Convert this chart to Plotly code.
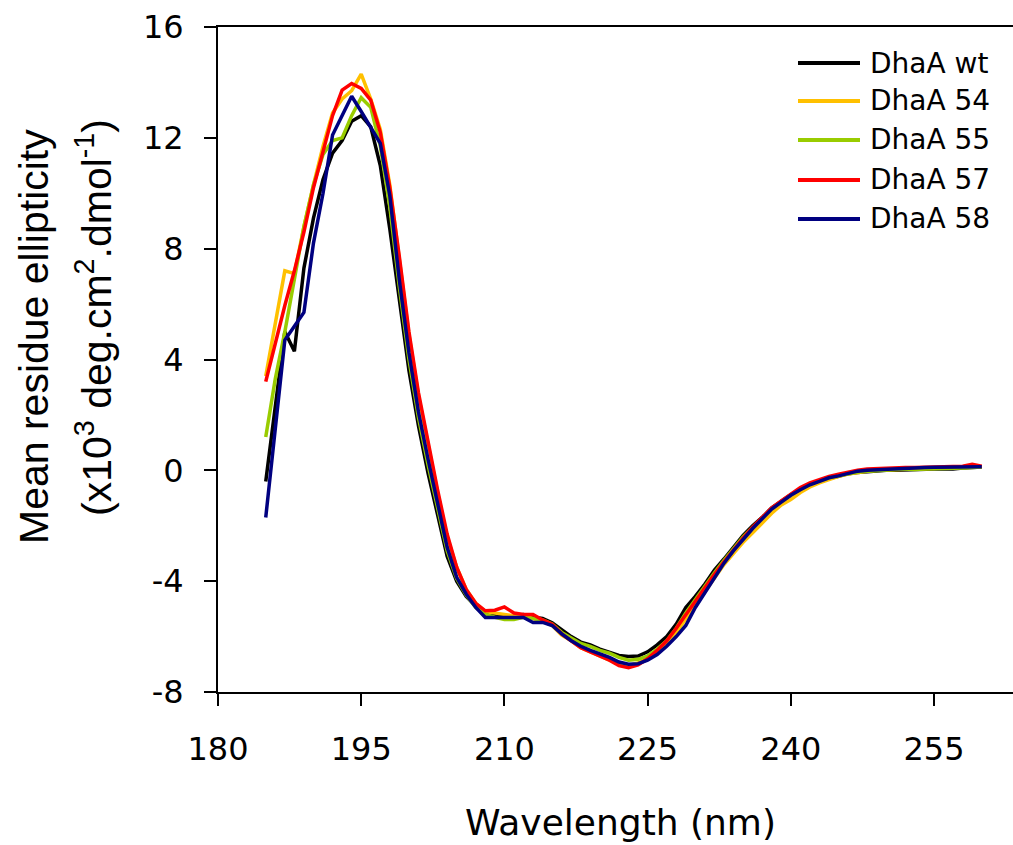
import plotly.graph_objects as go

wavelength = list(range(185, 261))

dhaa_wt = [-0.4, 2.3, 5.0, 4.3, 7.3, 9.1, 10.5, 11.45, 11.9, 12.6, 12.8, 12.4, 11.0, 8.7, 6.1, 3.6, 1.6, -0.1, -1.6, -3.1,
           -4.0, -4.55, -4.9, -5.1, -5.2, -5.25, -5.25, -5.2, -5.3, -5.35, -5.5, -5.75, -6.0, -6.2, -6.3, -6.45, -6.55, -6.68, -6.72, -6.7,
           -6.55, -6.3, -6.0, -5.55, -4.95, -4.55, -4.1, -3.6, -3.2, -2.75, -2.35, -2.0, -1.7, -1.35, -1.1, -0.88, -0.68, -0.55, -0.4, -0.3,
           -0.22, -0.12, -0.08, -0.05, -0.03, 0.0, 0.0, 0.02, 0.03, 0.05, 0.05, 0.06, 0.05, 0.08, 0.1, 0.12]

dhaa_54 = [3.4, 5.3, 7.2, 7.1, 8.8, 10.3, 11.7, 12.9, 13.4, 13.7, 14.3, 13.4, 12.3, 10.3, 7.6, 4.9, 2.7, 0.9, -0.8, -2.4,
           -3.5, -4.3, -4.8, -5.1, -5.15, -5.2, -5.25, -5.25, -5.35, -5.45, -5.6, -5.95, -6.15, -6.4, -6.55, -6.7, -6.85, -6.95, -7.05, -6.95,
           -6.8, -6.55, -6.25, -5.85, -5.35, -4.85, -4.35, -3.85, -3.4, -3.0, -2.6, -2.25, -1.9, -1.55, -1.25, -1.05, -0.8, -0.6, -0.45, -0.32,
           -0.22, -0.13, -0.07, -0.03, 0.0, 0.02, 0.03, 0.04, 0.05, 0.06, 0.06, 0.08, 0.1, 0.1, 0.1, 0.12]

dhaa_55 = [1.2, 3.3, 5.0, 6.9, 8.8, 10.3, 11.4, 11.9, 12.0, 12.8, 13.45, 13.1, 11.7, 9.5, 6.6, 4.0, 1.9, 0.2, -1.4, -2.9,
           -3.9, -4.5, -4.95, -5.2, -5.3, -5.38, -5.38, -5.3, -5.35, -5.4, -5.55, -5.85, -6.05, -6.25, -6.35, -6.5, -6.6, -6.75, -6.85, -6.82,
           -6.7, -6.45, -6.15, -5.7, -5.15, -4.65, -4.2, -3.7, -3.25, -2.8, -2.4, -2.05, -1.7, -1.38, -1.12, -0.88, -0.68, -0.5, -0.38, -0.27,
           -0.2, -0.12, -0.06, -0.03, 0.0, 0.02, 0.03, 0.05, 0.03, 0.05, 0.05, 0.06, 0.08, 0.08, 0.1, 0.12]

dhaa_57 = [3.2, 4.6, 5.95, 7.2, 8.6, 10.2, 11.5, 12.8, 13.72, 13.96, 13.78, 13.36, 12.2, 10.2, 7.7, 5.0, 2.8, 1.0, -0.7, -2.3,
           -3.5, -4.3, -4.8, -5.07, -5.05, -4.93, -5.15, -5.2, -5.2, -5.4, -5.55, -5.9, -6.15, -6.4, -6.55, -6.7, -6.85, -7.05, -7.12, -7.02,
           -6.8, -6.5, -6.15, -5.7, -5.2, -4.7, -4.25, -3.75, -3.3, -2.85, -2.45, -2.05, -1.7, -1.35, -1.1, -0.85, -0.62, -0.45, -0.32, -0.22,
           -0.14, -0.06, 0.0, 0.05, 0.07, 0.07, 0.08, 0.1, 0.1, 0.11, 0.12, 0.12, 0.12, 0.15, 0.22, 0.15]

dhaa_58 = [-1.7, 1.5, 4.7, 5.2, 5.7, 8.2, 10.0, 12.1, 12.8, 13.5, 12.95, 12.4, 11.8, 9.9, 6.85, 4.24, 2.1, 0.4, -1.2, -2.78,
           -3.86, -4.47, -4.95, -5.31, -5.31, -5.31, -5.31, -5.31, -5.49, -5.49, -5.6, -5.9, -6.15, -6.35, -6.5, -6.62, -6.75, -6.92, -7.0, -6.98,
           -6.85, -6.65, -6.35, -6.0, -5.6, -4.95, -4.4, -3.9, -3.35, -2.9, -2.5, -2.1, -1.75, -1.4, -1.15, -0.9, -0.7, -0.52, -0.4, -0.27,
           -0.2, -0.1, -0.03, 0.0, 0.02, 0.05, 0.07, 0.08, 0.1, 0.1, 0.11, 0.12, 0.12, 0.12, 0.13, 0.13]

series_names = ["DhaA wt", "DhaA 54", "DhaA 55", "DhaA 57", "DhaA 58"]
series_values = [dhaa_wt, dhaa_54, dhaa_55, dhaa_57, dhaa_58]
series_colors = ["#000000", "#FFC000", "#99CC00", "#FF0000", "#000080"]

x_ticks = [180, 195, 210, 225, 240, 255]
y_ticks = [-8, -4, 0, 4, 8, 12, 16]

W, H = 1013, 845
L, R, T, B = 218, 0, 27, 153
PW, PH = W - L - R, H - T - B

fig = go.Figure()
for name, vals, col in zip(series_names, series_values, series_colors):
    fig.add_trace(go.Scatter(x=wavelength, y=vals, mode="lines", name=name,
                             line=dict(color=col, width=3.5), showlegend=False))

tick_font = dict(family="DejaVu Sans", size=32, color="#000000")

def px2paper(px, py):
    return (px - L) / PW, (H - B - py) / PH

# manual legend
leg_y = [63, 101, 140, 180, 219]
for name, col, py in zip(series_names, series_colors, leg_y):
    x0, y0 = px2paper(798, py)
    x1, _ = px2paper(860, py)
    fig.add_shape(type="line", xref="paper", yref="paper", x0=x0, x1=x1, y0=y0, y1=y0,
                  line=dict(color=col, width=4))
    tx, _ = px2paper(868, py)
    fig.add_annotation(xref="paper", yref="paper", x=tx, y=y0, text=name, showarrow=False,
                       xanchor="left", yanchor="middle",
                       font=dict(family="DejaVu Sans", size=28, color="#000000"))

# axis titles
xt, yt = px2paper(620, 822)
fig.add_annotation(xref="paper", yref="paper", x=xt, y=yt, text="Wavelength (nm)", showarrow=False,
                   xanchor="center", yanchor="middle",
                   font=dict(family="DejaVu Sans", size=36, color="#000000"))
a1x, a1y = px2paper(34, 337)
fig.add_annotation(xref="paper", yref="paper", x=a1x, y=a1y, text="Mean residue ellipticity",
                   showarrow=False, textangle=-90, xanchor="center", yanchor="middle",
                   font=dict(family="Liberation Sans", size=41, color="#000000"))
a2x, a2y = px2paper(94, 318)
fig.add_annotation(xref="paper", yref="paper", x=a2x, y=a2y,
                   text="(x10<sup>3</sup> deg.cm<sup>2</sup>.dmol<sup>-1</sup>)",
                   showarrow=False, textangle=-90, xanchor="center", yanchor="middle",
                   font=dict(family="Liberation Sans", size=41, color="#000000"))

x_max = 180 + PW / 9.547

fig.update_layout(
    width=W, height=H,
    margin=dict(l=L, r=R, t=T, b=B, pad=0),
    paper_bgcolor="white", plot_bgcolor="white",
    showlegend=False,
    xaxis=dict(range=[180, x_max], tickvals=x_ticks, ticktext=[str(v) for v in x_ticks],
               showgrid=False, zeroline=False, showline=True, linecolor="#000000", linewidth=2,
               mirror=True, ticks="outside", ticklen=12, tickwidth=2, tickcolor="#000000",
               tickfont=tick_font, ticklabelstandoff=16),
    yaxis=dict(range=[-8, 16], tickvals=y_ticks, ticktext=[str(v) for v in y_ticks],
               showgrid=False, zeroline=False, showline=True, linecolor="#000000", linewidth=2,
               ticks="outside", ticklen=12, tickwidth=2, tickcolor="#000000",
               tickfont=tick_font, ticklabelstandoff=14),
)

fig.write_html("out.html")
